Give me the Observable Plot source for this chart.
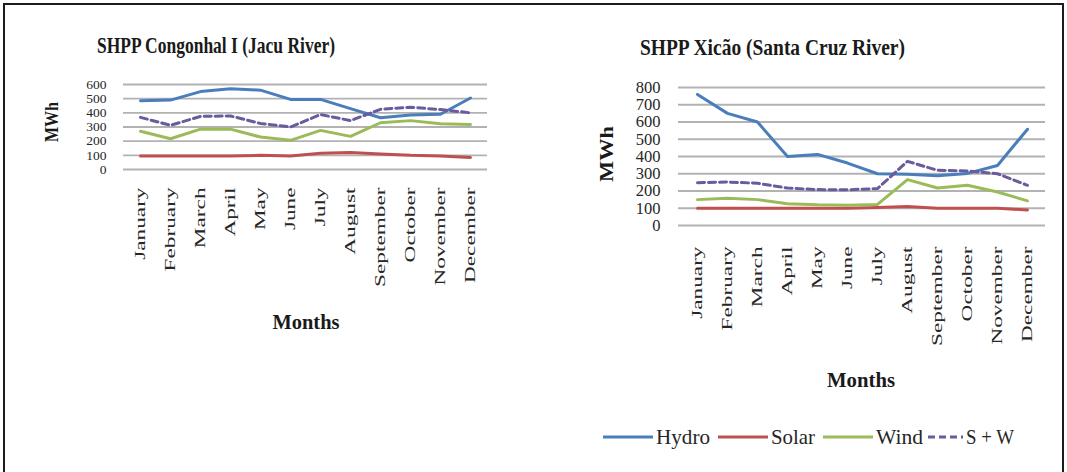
<!DOCTYPE html>
<html>
<head>
<meta charset="utf-8">
<script src="https://cdn.jsdelivr.net/npm/d3@7"></script>
<script src="https://cdn.jsdelivr.net/npm/@observablehq/plot@0.6"></script>
<style>
  html, body { margin: 0; padding: 0; background: #fff; }
  #page { position: relative; width: 1067px; height: 472px; overflow: hidden; background: #fff;
          font-family: "Liberation Serif", "Times New Roman", serif; }
  #frame { position: absolute; left: 3px; top: 3px; width: 1057px; height: 490px; border: 2px solid #1c1c1c; }
  #page > svg { position: absolute; }
  #page svg text { font-family: "Liberation Serif", "Times New Roman", serif; }
</style>
</head>
<body>
<div id="page"><div id="frame"></div></div>
<script>
// ---------- data ----------
const months = ["January","February","March","April","May","June","July","August","September","October","November","December"];
const seriesNames = ["Hydro","Solar","Wind","S + W"];
const seriesColors = ["#4a7ebb","#c0504d","#9bbb59","#6a5a9e"];

// SHPP Congonhal I (Jacu River)
const congHydro = [485, 490, 550, 570, 560, 495, 495, 430, 365, 385, 390, 505];
const congSolar = [95, 95, 95, 95, 100, 95, 115, 120, 110, 100, 95, 85];
const congWind  = [270, 217, 285, 285, 229, 206, 276, 234, 330, 345, 323, 318];
const congSW    = [368, 312, 375, 378, 325, 300, 388, 345, 425, 440, 423, 400];
const congTicks = [0, 100, 200, 300, 400, 500, 600];

// SHPP Xicão (Santa Cruz River)
const xicHydro = [760, 650, 600, 400, 412, 362, 300, 297, 288, 302, 348, 558];
const xicSolar = [100, 100, 100, 100, 100, 100, 105, 110, 100, 100, 100, 90];
const xicWind  = [150, 158, 150, 126, 120, 118, 122, 266, 217, 233, 194, 143];
const xicSW    = [248, 252, 245, 217, 208, 207, 214, 372, 320, 316, 300, 233];
const xicTicks = [0, 100, 200, 300, 400, 500, 600, 700, 800];

const titles = ["SHPP Congonhal I (Jacu River)", "SHPP Xicão (Santa Cruz River)"];
const yLabel = "MWh";
const xLabel = "Months";

// ---------- helpers ----------
function toRows(arrays) {
  const rows = [];
  arrays.forEach((vals, i) => vals.forEach((v, j) => rows.push({series: seriesNames[i], month: months[j], value: v})));
  return rows;
}

function panel(arrays, ticks, g) {
  const rows = toRows(arrays);
  const solid = rows.filter(d => d.series !== "S + W");
  const dashed = rows.filter(d => d.series === "S + W");
  return Plot.plot({
    width: g.width, height: g.height,
    marginTop: g.mt, marginBottom: g.mb, marginLeft: g.ml, marginRight: g.mr,
    style: {fontFamily: "'Liberation Serif', 'Times New Roman', serif", background: "transparent", color: "#262626", overflow: "visible"},
    x: {type: "point", domain: months, padding: 0.5, label: null},
    y: {domain: [0, d3.max(ticks)], label: null},
    color: {domain: seriesNames, range: seriesColors},
    marks: [
      Plot.gridY(ticks, {stroke: "#b2b2b2", strokeOpacity: 1, strokeWidth: 1.8}),
      Plot.axisY(ticks, {tickSize: 0, tickPadding: g.ytp, fontSize: g.yfs, label: null}),
      Plot.axisX({tickSize: 0, tickRotate: -90, tickPadding: g.xtp, fontSize: 15, label: null}),
      Plot.lineY(solid, {x: "month", y: "value", z: "series", stroke: "series", strokeWidth: 3, strokeLinejoin: "round"}),
      Plot.lineY(dashed, {x: "month", y: "value", stroke: "series", strokeWidth: 3, strokeDasharray: "7,4"})
    ]
  });
}

const page = document.getElementById("page");

const left = panel([congHydro, congSolar, congWind, congSW], congTicks,
  {width: 510, height: 340, mt: 84, mb: 171, ml: 123, mr: 23, ytp: 17, yfs: 13.5, xtp: 18});
left.style.left = "0px"; left.style.top = "0px";
page.appendChild(left);

const right = panel([xicHydro, xicSolar, xicWind, xicSW], xicTicks,
  {width: 530, height: 400, mt: 87, mb: 175, ml: 148, mr: 15, ytp: 18, yfs: 16.5, xtp: 21});
right.style.left = "530px"; right.style.top = "0px";
page.appendChild(right);

// stretch the month labels along their length (as in the reference)
[left, right].forEach(svg => {
  d3.select(svg).selectAll('g[aria-label="x-axis tick label"] text').each(function() {
    const len = this.getComputedTextLength();
    this.setAttribute("textLength", (len * 1.55).toFixed(1));
    this.setAttribute("lengthAdjust", "spacingAndGlyphs");
  });
});

// ---------- overlay: titles, axis titles, legend ----------
const ov = d3.select(page).append("svg")
  .attr("width", 1067).attr("height", 472)
  .style("left", "0px").style("top", "0px");

function stretched(x, y, str, opts) {
  const t = ov.append("text").attr("x", x).attr("y", y).text(str)
    .attr("font-family", "'Liberation Serif', 'Times New Roman', serif")
    .attr("font-size", opts.size).attr("font-weight", opts.bold ? "bold" : null)
    .attr("fill", opts.fill || "#1a1a1a")
    .attr("text-anchor", opts.anchor || "start");
  if (opts.len) t.attr("textLength", opts.len).attr("lengthAdjust", "spacingAndGlyphs");
  if (opts.rotate) t.attr("transform", `rotate(${opts.rotate},${x},${y})`);
  return t;
}

stretched(97, 53, titles[0], {size: 23, bold: true, len: 238});
stretched(640, 55, titles[1], {size: 23, bold: true, len: 265});

stretched(58, 122, yLabel, {size: 18, bold: true, anchor: "middle", rotate: -90, len: 40});
stretched(613, 154, yLabel, {size: 19, bold: true, anchor: "middle", rotate: -90, len: 56});

stretched(306, 329, xLabel, {size: 20, bold: true, anchor: "middle", len: 67});
stretched(861, 387, xLabel, {size: 20, bold: true, anchor: "middle", len: 68});

// legend
const legendItems = [
  {name: "Hydro", x0: 603, x1: 653, tx: 656, tl: 54},
  {name: "Solar", x0: 718, x1: 768, tx: 771, tl: 44},
  {name: "Wind",  x0: 823, x1: 873, tx: 876, tl: 47},
  {name: "S + W", x0: 928, x1: 963, tx: 966, tl: 48}
];
legendItems.forEach((it, i) => {
  ov.append("line").attr("x1", it.x0).attr("x2", it.x1).attr("y1", 437).attr("y2", 437)
    .attr("stroke", seriesColors[i]).attr("stroke-width", 3)
    .attr("stroke-dasharray", it.name === "S + W" ? "7,4" : null);
  stretched(it.tx, 444, it.name, {size: 21, len: it.tl, fill: "#262626"});
});
</script>
</body>
</html>
